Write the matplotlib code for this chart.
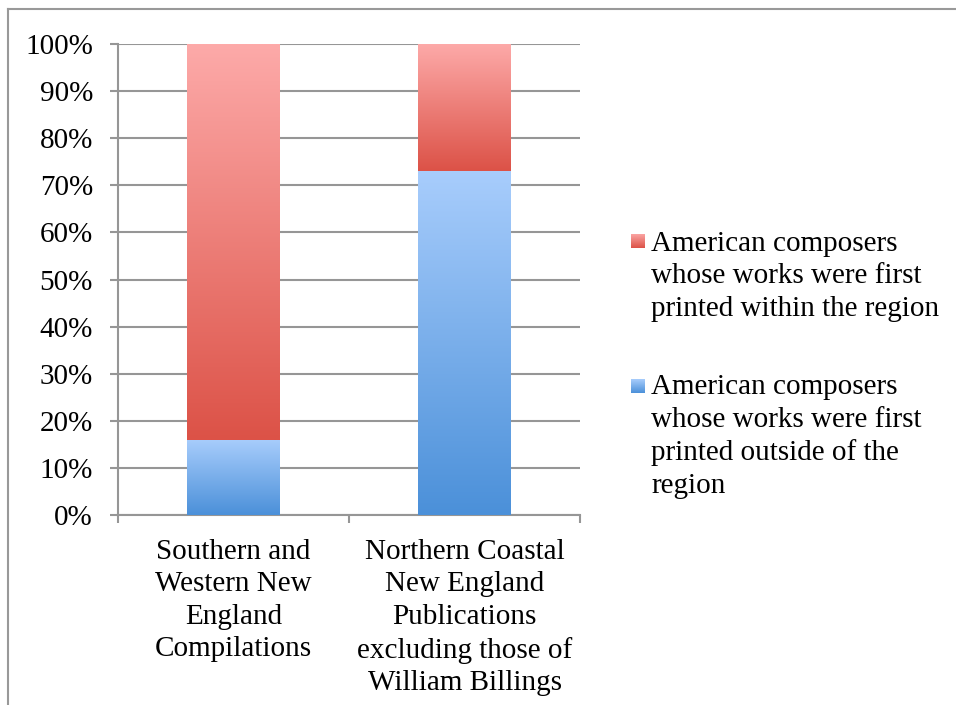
import numpy as np
import matplotlib
matplotlib.use('Agg')
import matplotlib.pyplot as plt
from matplotlib.colors import LinearSegmentedColormap
from matplotlib.lines import Line2D
from matplotlib.ticker import FixedLocator, PercentFormatter

plt.rcParams['font.family'] = ['Liberation Serif', 'DejaVu Serif']

categories = ['Southern and\nWestern New\nEngland\nCompilations',
              'Northern Coastal\nNew England\nPublications\nexcluding those of\nWilliam Billings']
outside_pct = [16, 73]   # blue, bottom
within_pct = [84, 27]    # red, top
series_labels = ['American composers\nwhose works were first\nprinted within the region',
                 'American composers\nwhose works were first\nprinted outside of the\nregion']

red_cmap = LinearSegmentedColormap.from_list('red', ['#dc5247', '#fdaaa9'])
blue_cmap = LinearSegmentedColormap.from_list('blue', ['#4b90d9', '#a8cdfc'])
grad = np.linspace(0, 1, 256).reshape(-1, 1)

FS = 21
LS = 1.33

fig = plt.figure(figsize=(9.56, 7.05), dpi=100)
ax = fig.add_axes([118 / 956, 190 / 705, 462 / 956, 471 / 705])

bar_w = 0.4
grid_c = '#969696'
for i in range(len(categories)):
    lo, hi = 0, outside_pct[i]
    ax.imshow(grad, cmap=blue_cmap, origin='lower', aspect='auto',
              extent=[i - bar_w / 2, i + bar_w / 2, lo, hi], zorder=3)
    lo, hi = outside_pct[i], outside_pct[i] + within_pct[i]
    ax.imshow(grad, cmap=red_cmap, origin='lower', aspect='auto',
              extent=[i - bar_w / 2, i + bar_w / 2, lo, hi], zorder=3)

ax.set_xlim(-0.5, len(categories) - 0.5)
ax.set_ylim(0, 100)
ax.yaxis.set_major_locator(FixedLocator(np.arange(0, 101, 10)))
ax.yaxis.set_major_formatter(PercentFormatter(decimals=0))
ax.grid(axis='y', color=grid_c, linewidth=1.5, zorder=0)
ax.set_axisbelow(True)

ax.set_xticks(range(len(categories)))
ax.set_xticklabels(categories, fontsize=FS, linespacing=LS)
ax.set_xticks([-0.5, 0.5, 1.5], minor=True)
ax.tick_params(axis='x', which='major', length=0, pad=17)
ax.tick_params(axis='x', which='minor', length=6, width=1.5, color=grid_c)
ax.tick_params(axis='y', length=6, width=1.5, color=grid_c, labelsize=FS, pad=12)

for s in ['top', 'right']:
    ax.spines[s].set_visible(False)
for s in ['left', 'bottom']:
    ax.spines[s].set_color(grid_c)
    ax.spines[s].set_linewidth(1.5)

# legend drawn by hand: (cmap, label, marker top px, last-line baseline px)
leg_items = [(red_cmap, series_labels[0], 234, 316),
             (blue_cmap, series_labels[1], 379, 493)]
for cmap, label, mtop, base in leg_items:
    lax = fig.add_axes([631 / 956, 1 - (mtop + 14) / 705, 14 / 956, 14 / 705])
    lax.imshow(grad, cmap=cmap, origin='lower', aspect='auto')
    lax.axis('off')
    fig.text(651 / 956, 1 - base / 705, label, fontsize=FS,
             ha='left', va='baseline', linespacing=LS)

# outer chart frame (top and left edges)
fig.add_artist(Line2D([8 / 956, 1], [1 - 9 / 705, 1 - 9 / 705],
                      transform=fig.transFigure, color='#999999', lw=1.5))
fig.add_artist(Line2D([8 / 956, 8 / 956], [0, 1 - 9 / 705],
                      transform=fig.transFigure, color='#999999', lw=1.5))

fig.savefig('out.png', dpi=100, facecolor='white')
